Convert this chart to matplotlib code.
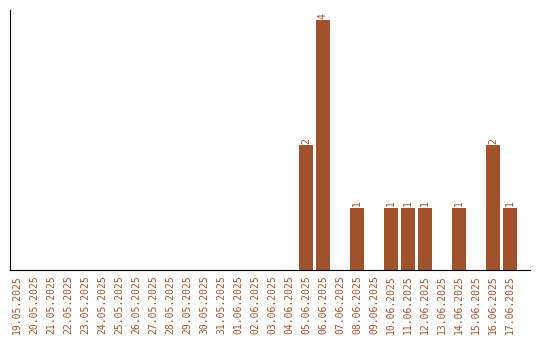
import matplotlib.pyplot as plt
import numpy as np

# Data
dates = ['19.05.2025', '20.05.2025', '21.05.2025', '22.05.2025', '23.05.2025',
         '24.05.2025', '25.05.2025', '26.05.2025', '27.05.2025', '28.05.2025',
         '29.05.2025', '30.05.2025', '31.05.2025', '01.06.2025', '02.06.2025',
         '03.06.2025', '04.06.2025', '05.06.2025', '06.06.2025', '07.06.2025',
         '08.06.2025', '09.06.2025', '10.06.2025', '11.06.2025', '12.06.2025',
         '13.06.2025', '14.06.2025', '15.06.2025', '16.06.2025', '17.06.2025']
counts = [0, 0, 0, 0, 0, 0, 0, 0, 0, 0,
          0, 0, 0, 0, 0, 0, 0, 2, 4, 0,
          1, 0, 1, 1, 1, 0, 1, 0, 2, 1]

color = '#a0522d'

fig = plt.figure(figsize=(5.4, 3.4), dpi=100)
ax = fig.add_axes([10 / 540, 70 / 340, 520 / 540, 260 / 340])

x = np.arange(len(dates))
ax.bar(x, counts, width=0.82, color=color)

# value labels above the bars
for xi, c in zip(x, counts):
    if c > 0:
        ax.annotate(str(c), (xi, c), xytext=(0, 1), textcoords='offset points',
                    ha='center', va='bottom', rotation=90, color=color,
                    fontsize=7, family='DejaVu Sans Mono')

ax.set_xlim(-0.41, 30.18)
ax.set_ylim(0, 4.16)
ax.set_xticks(x)
ax.set_xticklabels(dates, rotation=90, color=color, fontsize=7,
                   family='DejaVu Sans Mono')
ax.set_yticks([])
ax.tick_params(axis='x', length=0, pad=4)

ax.spines['top'].set_visible(False)
ax.spines['right'].set_visible(False)

fig.savefig('out.png', dpi=100)
